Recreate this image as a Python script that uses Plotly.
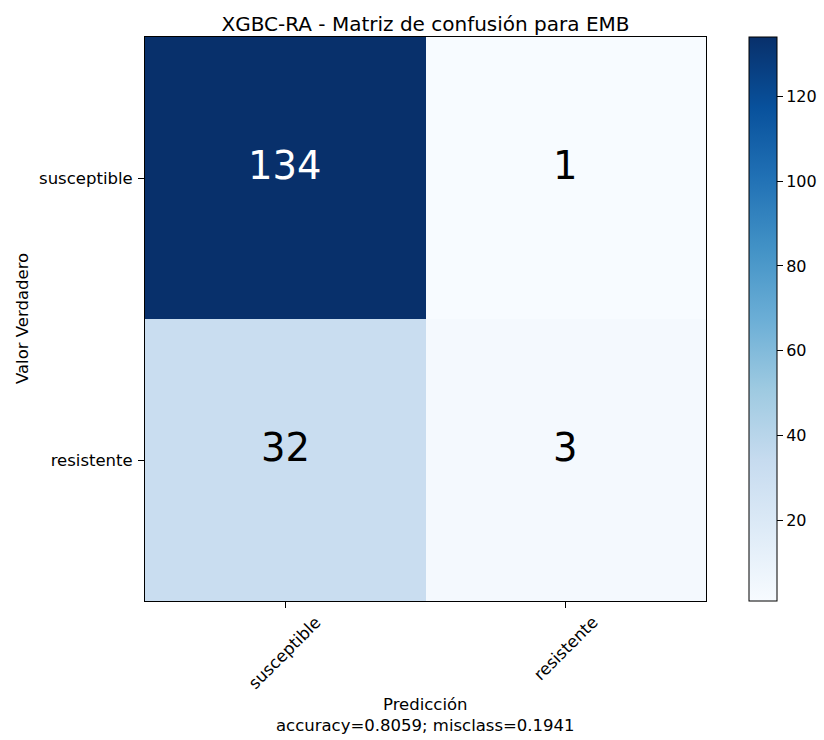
import plotly.graph_objects as go

# Confusion matrix for EMB (rows: true class, columns: predicted class)
classes = ["susceptible", "resistente"]
counts = [
    [134, 1],
    [32, 3],
]
accuracy = 0.8059
misclass = 0.1941

# matplotlib "Blues" colormap anchors
blues = ["#f7fbff", "#deebf7", "#c6dbef", "#9ecae1", "#6baed6",
         "#4292c6", "#2171b5", "#08519c", "#08306b"]
colorscale = [[i / (len(blues) - 1), c] for i, c in enumerate(blues)]

flat = [v for row in counts for v in row]
zmin, zmax = min(flat), max(flat)
thresh = zmax / 2

FONT = "DejaVu Sans"
TXT = 16.5

fig = go.Figure(
    go.Heatmap(
        z=counts,
        x=classes,
        y=classes,
        colorscale=colorscale,
        zmin=zmin,
        zmax=zmax,
        showscale=True,
        colorbar=dict(
            x=1.0766,
            xanchor="left",
            xpad=0,
            y=0.5,
            yanchor="middle",
            len=564,
            lenmode="pixels",
            thickness=28,
            thicknessmode="pixels",
            outlinecolor="#000000",
            outlinewidth=1,
            ticks="outside",
            ticklen=6,
            tickcolor="#000000",
            tickvals=[20, 40, 60, 80, 100, 120],
            tickfont=dict(family=FONT, size=16, color="#000000"),
            ypad=0,
        ),
        hoverinfo="skip",
    )
)

# Cell counts, white on dark cells and black on light ones; baseline sits on the cell centre
for i, row in enumerate(counts):
    for j, v in enumerate(row):
        fig.add_annotation(
            x=classes[j], y=classes[i], text=str(v), showarrow=False,
            yshift=13,
            font=dict(family=FONT, size=38.5,
                      color="#ffffff" if v > thresh else "#000000"),
        )

# Rotated x tick labels, centred under their ticks
for c in classes:
    fig.add_annotation(
        x=c, y=0, xref="x", yref="paper", xanchor="center", yanchor="top",
        yshift=-9, textangle=-45, showarrow=False, text=c,
        font=dict(family=FONT, size=TXT, color="#000000"),
    )

# Axis titles
fig.add_annotation(
    x=0.5, y=0, xref="paper", yref="paper", xanchor="center", yanchor="top",
    yshift=-92, showarrow=False, align="center",
    text=f"Predicción<br>accuracy={accuracy:.4f}; misclass={misclass:.4f}",
    font=dict(family=FONT, size=TXT, color="#000000"),
)
fig.add_annotation(
    x=0, y=0.5, xref="paper", yref="paper", xanchor="center", yanchor="middle",
    xshift=-123, textangle=-90, showarrow=False, text="Valor Verdadero",
    font=dict(family=FONT, size=TXT, color="#000000"),
)

axis_common = dict(
    showline=True, linecolor="#000000", linewidth=1, mirror=True,
    ticks="outside", ticklen=6, tickcolor="#000000",
    tickfont=dict(family=FONT, size=TXT, color="#000000"),
    showgrid=False, zeroline=False,
)

fig.update_xaxes(showticklabels=False, **axis_common)
fig.update_yaxes(autorange="reversed", ticklabelstandoff=2, **axis_common)

fig.update_layout(
    width=824,
    height=740,
    margin=dict(l=145, r=118, t=37, b=139, autoexpand=False),
    paper_bgcolor="#ffffff",
    plot_bgcolor="#ffffff",
    title=dict(
        text="XGBC-RA - Matriz de confusión para EMB",
        x=0.5, xref="paper", xanchor="center",
        y=1, yref="paper", yanchor="bottom", pad=dict(b=6),
        font=dict(family=FONT, size=20, color="#000000"),
    ),
)

fig.write_html("out.html")
